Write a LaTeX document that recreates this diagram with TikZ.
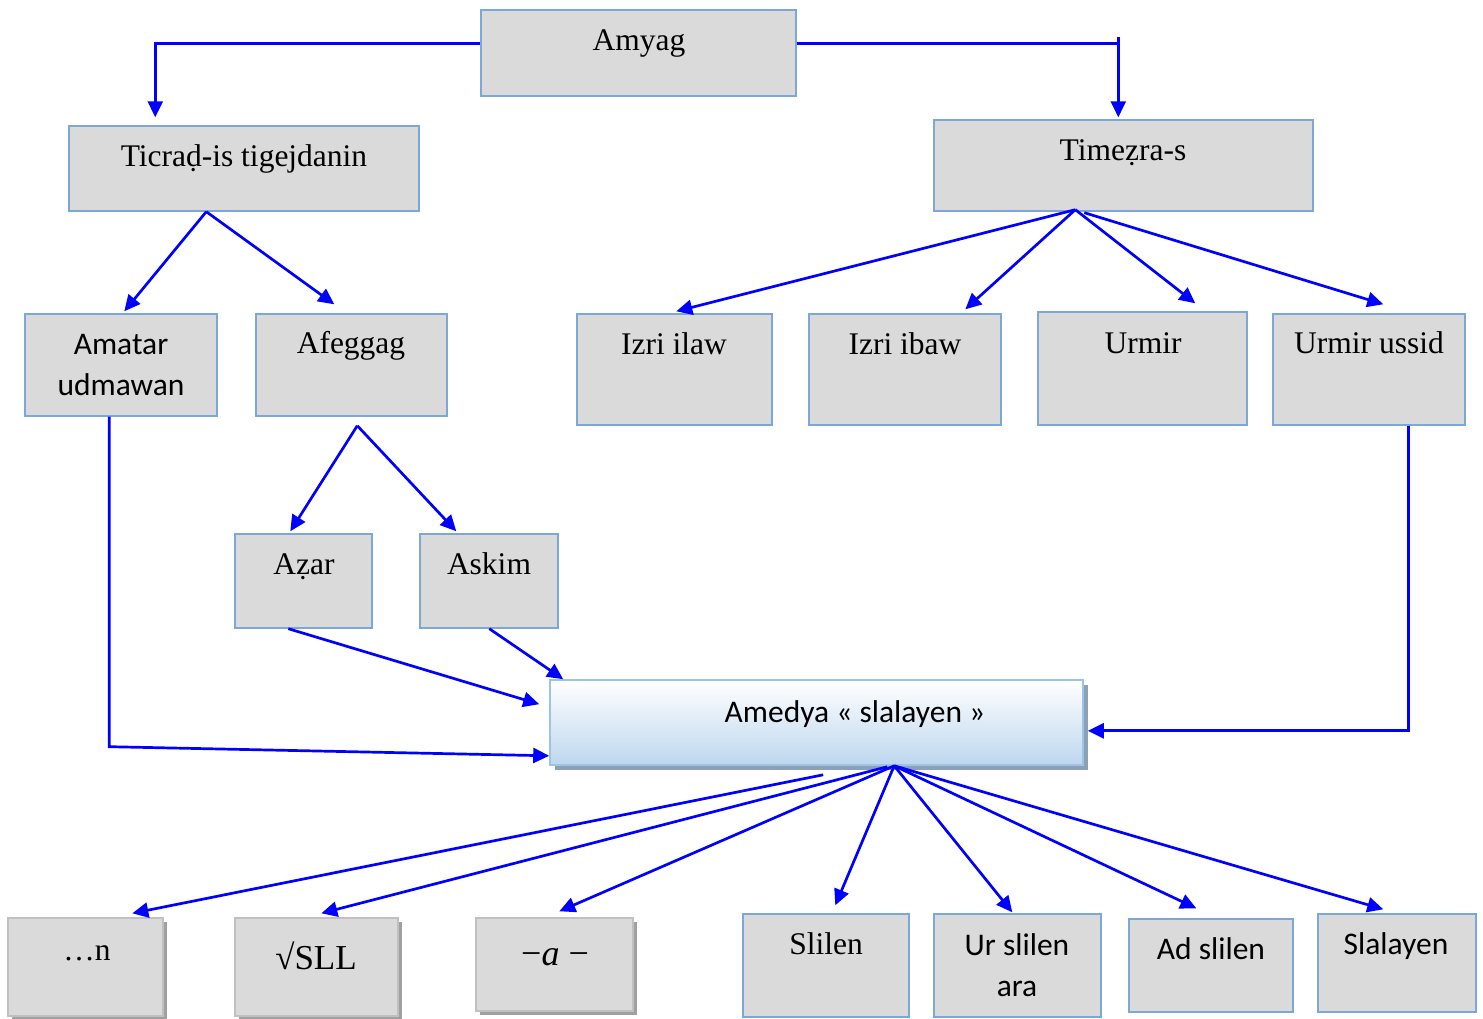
\documentclass[tikz,border=0pt]{standalone}
\usepackage{fontspec}
\setmainfont{Liberation Serif}
\newfontfamily\calfont{Carlito}
\usetikzlibrary{arrows.meta,calc,fit,shadows}
\definecolor{boxfill}{RGB}{218,218,218}
\definecolor{boxline}{RGB}{124,167,217}
\definecolor{grayline}{RGB}{192,192,192}
\definecolor{grayshadow}{RGB}{160,160,160}
\definecolor{arrowblue}{RGB}{0,0,255}
\definecolor{amedbot}{RGB}{189,215,238}
\definecolor{amedline}{RGB}{157,195,230}
\definecolor{amedshadow}{RGB}{140,160,182}
\tikzset{
  box/.style={draw=boxline, fill=boxfill, line width=1.4pt, inner sep=0pt},
  graybox/.style={draw=grayline, fill=boxfill, line width=1.4pt, inner sep=0pt,
    drop shadow={shadow xshift=4pt, shadow yshift=-4pt, fill=grayshadow, opacity=1}},
  amedbox/.style={draw=amedline, top color=white, bottom color=amedbot, line width=1.6pt, inner sep=0pt,
    drop shadow={shadow xshift=5pt, shadow yshift=-5pt, fill=amedshadow, opacity=1}},
  tx/.style={font=\fontsize{31.5}{41}\selectfont, inner sep=0pt, anchor=base, align=center},
  txs/.style={tx, font=\fontsize{31.5}{41}\selectfont\calfont},
  link/.style={draw=arrowblue, line width=2.7pt, line join=miter},
  conn/.style={link, -{Triangle[length=16pt,width=15pt]}},
}
\begin{document}
\begin{tikzpicture}[x=1pt,y=-1pt]
\useasboundingbox (0,0) rectangle (1483,1019);
% boxes
\node[box, fit={(481,10) (796,96)}] (amyag) {};
\node[box, fit={(69,126) (419,211)}] (ticrad) {};
\node[box, fit={(934,120) (1313,211)}] (timezra) {};
\node[box, fit={(25,314) (217,416)}] (amatar) {};
\node[box, fit={(256,314) (447,416)}] (afeggag) {};
\node[box, fit={(577,314) (772,425)}] (izril) {};
\node[box, fit={(809,314) (1001,425)}] (izrib) {};
\node[box, fit={(1038,312) (1247,425)}] (urmir) {};
\node[box, fit={(1273,314) (1465,425)}] (ussid) {};
\node[box, fit={(235,534) (372,628)}] (azar) {};
\node[box, fit={(420,534) (558,628)}] (askim) {};
\node[amedbox, fit={(550,680) (1083,765)}] (amedya) {};
\node[graybox, fit={(8,918) (163,1016)}] (dotsn) {};
\node[graybox, fit={(235,918) (398,1016)}] (sll) {};
\node[graybox, fit={(476,918) (633,1011)}] (minusa) {};
\node[box, fit={(743,914) (909,1017)}] (slilen) {};
\node[box, fit={(934,914) (1101,1017)}] (urslilen) {};
\node[box, fit={(1129,919) (1293,1012)}] (adslilen) {};
\node[box, fit={(1318,914) (1476,1012)}] (slalayen) {};
% texts
\node[tx] (amyag-t) at (639,51) {Amyag};
\node[tx] (ticrad-t) at (244,167) {Ticraḍ-is tigejdanin};
\node[tx] (timezra-t) at (1123,161) {Timeẓra-s};
\node[txs] (amatar-t) at (121,395) {Amatar\\udmawan};
\node[tx] (afeggag-t) at (351,353) {Afeggag};
\node[tx] (izril-t) at (674,354) {Izri ilaw};
\node[tx] (izrib-t) at (905,354) {Izri ibaw};
\node[tx] (urmir-t) at (1143,353) {Urmir};
\node[tx] (ussid-t) at (1369,353) {Urmir ussid};
\node[tx] (azar-t) at (304,574) {Aẓar};
\node[tx] (askim-t) at (489,574) {Askim};
\node[txs] (amedya-t) at (855,722) {Amedya « slalayen »};
\node[tx] (dotsn-t) at (87,960) {…n};
\node[tx, font=\fontsize{35}{41}\selectfont] (sll-t) at (316,969) {√SLL};
\node[tx, font=\fontsize{36}{41}\selectfont] (minusa-t) at (555,965) {−\textit{a} −};
\node[tx] (slilen-t) at (826,954) {Slilen};
\node[txs] (urslilen-t) at (1017,996) {Ur slilen\\ara};
\node[txs] (adslilen-t) at (1211,959) {Ad slilen};
\node[txs] (slalayen-t) at (1396,954) {Slalayen};
% top connectors
\draw[conn] ($(amyag.north west)+(0,34)$) -| ($(ticrad.north west)+(87,-8)$);
\draw[link] ($(amyag.north east)+(0,34)$) -- ($(timezra.north west)+(185,-76)$);
\draw[conn] ($(timezra.north west)+(185,-82)$) -- ($(timezra.north west)+(185,-2)$);
% Ticrad fan
\coordinate (ta) at ($(ticrad.south west)+(138,0)$);
\draw[conn] (ta) -- ($(amatar.north west)+(100,-2)$);
\draw[conn] (ta) -- ($(afeggag.north west)+(79,-9)$);
% Timezra fan
\coordinate (tz1) at ($(timezra.south west)+(142,-2)$);
\coordinate (tz2) at ($(timezra.south west)+(151,1)$);
\draw[conn] (tz1) -- ($(izril.north west)+(100,-2)$);
\draw[conn] (tz1) -- ($(izrib.north west)+(157,-4)$);
\draw[conn] (tz1) -- ($(urmir.north west)+(158,-8)$);
\draw[conn] (tz2) -- ($(ussid.north west)+(111,-9)$);
% Afeggag fan
\coordinate (fa) at ($(afeggag.south west)+(102,9)$);
\draw[conn] (fa) -- ($(azar.north west)+(56,-2)$);
\draw[conn] (fa) -- ($(askim.north west)+(37,-2)$);
% into Amedya
\draw[conn] ($(azar.south west)+(54,0)$) -- ($(amedya.north west)+(-10,25)$);
\draw[conn] ($(askim.south west)+(70,0)$) -- ($(amedya.north west)+(14,0)$);
\draw[conn] ($(amatar.south west)+(85,0)$) -- ($(amatar.south west)+(85,330)$) -- ($(amedya.south west)+(0,-10)$);
\draw[conn] ($(ussid.south west)+(136,0)$) |- ($(amedya.south east)+(4,-35)$);
% Amedya fan
\coordinate (ao) at ($(amedya.south west)+(345,0)$);
\coordinate (an) at ($(amedya.south west)+(274,9)$);
\coordinate (as) at ($(amedya.south west)+(338,1)$);
\draw[conn] (an) -- ($(dotsn.north west)+(125,-4)$);
\draw[conn] (as) -- ($(sll.north west)+(87,-4)$);
\draw[conn] (ao) -- ($(minusa.north west)+(84,-6)$);
\draw[conn] (ao) -- ($(slilen.north west)+(93,-8)$);
\draw[conn] (ao) -- ($(urslilen.north west)+(79,-1)$);
\draw[conn] (ao) -- ($(adslilen.north west)+(68,-10)$);
\draw[conn] (ao) -- ($(slalayen.north west)+(66,-4)$);
\end{tikzpicture}
\end{document}
